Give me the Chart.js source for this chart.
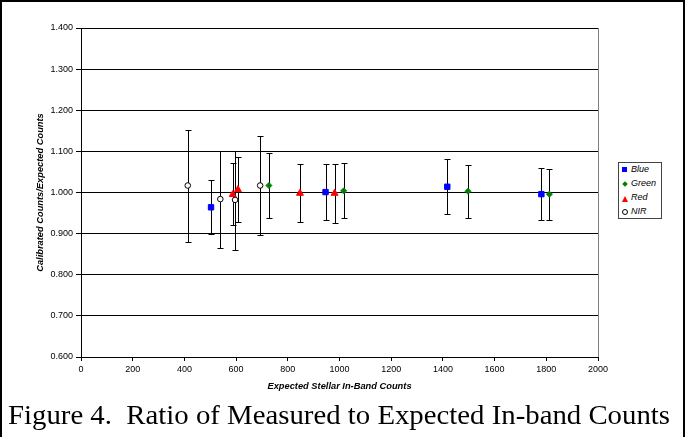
<!DOCTYPE html>
<html><head><meta charset="utf-8">
<script src="https://cdn.jsdelivr.net/npm/chart.js@4/dist/chart.umd.min.js"></script>
<style>
html,body{margin:0;padding:0;background:#fff;}
#wrap{position:relative;width:686px;height:437px;overflow:hidden;background:#fff;}
#frame{position:absolute;left:0;top:0;width:681px;height:445px;border:2px solid #000;box-sizing:content-box;}
#cv{position:absolute;left:0;top:0;}
#legend{position:absolute;left:618px;top:162px;width:42px;height:55px;border:1px solid #444;background:#fff;font:italic 9px "Liberation Sans",Arial,sans-serif;color:#000;}
.li{position:absolute;left:12px;height:11px;line-height:11px;}
.mk{position:absolute;}
#caption{position:absolute;left:8px;top:400px;font:27px "Liberation Serif","Times New Roman",serif;white-space:pre;transform-origin:left top;color:#000;line-height:30px;}
</style></head>
<body>
<div id="wrap">
<canvas id="cv" width="686" height="395"></canvas>
<div id="frame"></div>
<div id="legend">
  <div class="mk" style="left:3px;top:4px;width:5px;height:5px;background:#0000FF;"></div><div class="li" style="top:1px;">Blue</div>
  <div class="mk" style="left:4px;top:19px;width:4px;height:4px;background:#008000;transform:rotate(45deg);"></div><div class="li" style="top:15px;">Green</div>
  <div class="mk" style="left:3px;top:33px;width:0;height:0;border-left:3px solid transparent;border-right:3px solid transparent;border-bottom:6px solid #FF0000;"></div><div class="li" style="top:29px;">Red</div>
  <div class="mk" style="left:3px;top:46px;width:4px;height:4px;border:1px solid #000;border-radius:50%;background:#fff;"></div><div class="li" style="top:43px;">NIR</div>
</div>
<div id="caption">Figure 4.  Ratio of Measured to Expected In-band Counts</div>
</div>
<script>
// ---- data ----
const seriesNames = ['Blue', 'Green', 'Red', 'NIR'];

const blueX  = [503, 946, 1417, 1781];
const blueY  = [0.964, 1.001, 1.014, 0.996];
const blueHi = [1.030, 1.070, 1.081, 1.060];
const blueLo = [0.898, 0.933, 0.948, 0.932];

const greenX  = [727, 1016, 1497, 1812];
const greenY  = [1.017, 1.004, 1.003, 0.996];
const greenHi = [1.097, 1.071, 1.067, 1.058];
const greenLo = [0.937, 0.937, 0.938, 0.932];

const redX  = [587, 607, 847, 981];
const redY  = [0.995, 1.007, 0.998, 0.998];
const redHi = [1.071, 1.086, 1.070, 1.070];
const redLo = [0.920, 0.928, 0.929, 0.927];

const nirX  = [413, 539, 596, 693];
const nirY  = [1.017, 0.984, 0.982, 1.017];
const nirHi = [1.152, 1.102, 1.102, 1.137];
const nirLo = [0.880, 0.865, 0.860, 0.897];

const xTickValues = [0, 200, 400, 600, 800, 1000, 1200, 1400, 1600, 1800, 2000];
const yTickValues = [0.6, 0.7, 0.8, 0.9, 1.0, 1.1, 1.2, 1.3, 1.4];

const xTitle = 'Expected Stellar In-Band Counts';
const yTitle = 'Calibrated Counts/Expected Counts';

function pts(xs, ys, hi, lo) {
  return xs.map((x, i) => ({x: x, y: ys[i], hi: hi[i], lo: lo[i]}));
}

const errorBars = {
  id: 'errorBars',
  beforeDatasetsDraw(chart) {
    const ctx = chart.ctx, xs = chart.scales.x, ys = chart.scales.y;
    ctx.save();
    ctx.strokeStyle = '#000';
    ctx.lineWidth = 1;
    chart.data.datasets.forEach(ds => {
      ds.data.forEach(p => {
        const px = Math.round(xs.getPixelForValue(p.x)) + 0.5;
        const ph = Math.round(ys.getPixelForValue(p.hi)) + 0.5;
        const pl = Math.round(ys.getPixelForValue(p.lo)) + 0.5;
        ctx.beginPath();
        ctx.moveTo(px, ph); ctx.lineTo(px, pl);
        ctx.moveTo(px - 3, ph); ctx.lineTo(px + 3, ph);
        ctx.moveTo(px - 3, pl); ctx.lineTo(px + 3, pl);
        ctx.stroke();
      });
    });
    ctx.restore();
  },
  afterDraw(chart) {
    const ctx = chart.ctx, a = chart.chartArea;
    ctx.save();
    ctx.strokeStyle = '#808080';
    ctx.lineWidth = 1;
    ctx.beginPath();
    ctx.moveTo(Math.round(a.right) + 0.5, a.top);
    ctx.lineTo(Math.round(a.right) + 0.5, a.bottom);
    ctx.stroke();
    ctx.restore();
  }
};

const tickFont = {family: '"Liberation Sans", Arial, sans-serif', size: 9};
const titleFont = {family: '"Liberation Sans", Arial, sans-serif', size: 9.3, weight: 'bold', style: 'italic'};

new Chart(document.getElementById('cv'), {
  type: 'scatter',
  data: {
    datasets: [
      {label: seriesNames[0], data: pts(blueX, blueY, blueHi, blueLo), pointStyle: 'rect', pointRadius: 3.8, backgroundColor: '#0000FF', borderColor: '#0000FF', borderWidth: 1, order: 3},
      {label: seriesNames[1], data: pts(greenX, greenY, greenHi, greenLo), pointStyle: 'rectRot', pointRadius: 3, backgroundColor: '#008000', borderColor: '#008000', borderWidth: 1, order: 2},
      {label: seriesNames[2], data: pts(redX, redY, redHi, redLo), pointStyle: 'triangle', pointRadius: 4, backgroundColor: '#FF0000', borderColor: '#FF0000', borderWidth: 1, order: 1},
      {label: seriesNames[3], data: pts(nirX, nirY, nirHi, nirLo), pointStyle: 'circle', pointRadius: 2.8, backgroundColor: '#FFFFFF', borderColor: '#000000', borderWidth: 1, order: 0}
    ]
  },
  options: {
    responsive: false,
    animation: false,
    devicePixelRatio: 1,
    layout: {padding: {left: 0, right: 88, top: 28, bottom: 0}},
    plugins: {legend: {display: false}, tooltip: {enabled: false}},
    scales: {
      x: {
        type: 'linear', min: 0, max: 2000,
        afterBuildTicks: s => { s.ticks = xTickValues.map(v => ({value: v})); },
        afterFit: s => { s.height = 38; },
        ticks: {font: tickFont, color: '#000', padding: 3, maxRotation: 0, callback: v => String(v)},
        grid: {drawOnChartArea: false, color: '#000', tickLength: 4, lineWidth: 1},
        border: {color: '#000', width: 1},
        title: {display: true, text: xTitle, font: titleFont, color: '#000', padding: {top: 0, bottom: 3}}
      },
      y: {
        type: 'linear', min: 0.6, max: 1.4,
        afterBuildTicks: s => { s.ticks = yTickValues.map(v => ({value: v})); },
        afterFit: s => { s.width = 81; },
        ticks: {font: tickFont, color: '#000', padding: 3, callback: v => Number(v).toFixed(3)},
        grid: {color: '#000', tickLength: 5, lineWidth: 1},
        border: {color: '#000', width: 1},
        title: {display: true, text: yTitle, font: titleFont, color: '#000', padding: {top: 35, bottom: 0}}
      }
    }
  },
  plugins: [errorBars]
});

// fit caption width to the reference's span
const cap = document.getElementById('caption');
const w = cap.getBoundingClientRect().width;
cap.style.transform = 'scaleX(' + (662 / w) + ')';
</script>
</body></html>
